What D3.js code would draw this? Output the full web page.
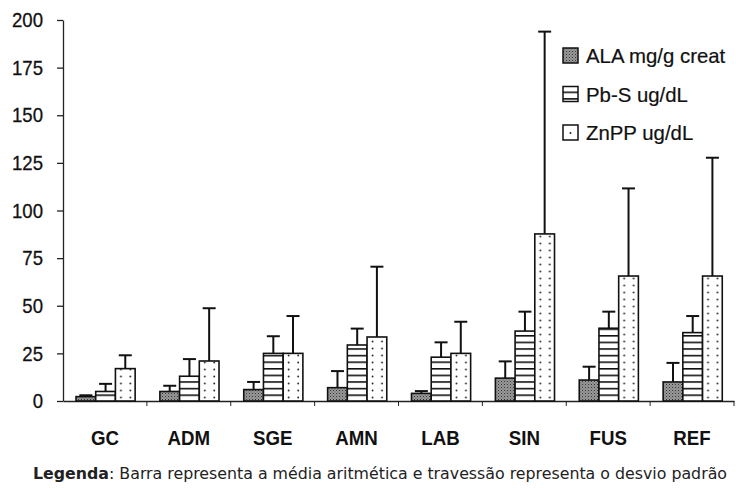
<!DOCTYPE html>
<html>
<head>
<meta charset="utf-8">
<script src="https://cdn.jsdelivr.net/npm/d3@7"></script>
<style>
  body { margin: 0; background: #fff; }
  svg { display: block; }
</style>
</head>
<body>
<div id="chart"></div>
<script>
// data (mean and standard deviation per group)
var categories = ["GC", "ADM", "SGE", "AMN", "LAB", "SIN", "FUS", "REF"];
var seriesNames = ["ALA mg/g creat", "Pb-S ug/dL", "ZnPP ug/dL"];
var alaMean = [2.3, 5, 6, 7, 4, 12, 11, 10];
var alaSd = [0.7, 3, 4, 8.7, 1.2, 8.8, 7, 10];
var pbsMean = [5, 13, 25, 29.4, 23, 36.7, 38.2, 35.9];
var pbsSd = [4, 9, 9, 8.6, 7.8, 10.2, 8.7, 8.7];
var znppMean = [17, 21, 25, 33.6, 25, 87.7, 65.6, 65.6];
var znppSd = [7, 27.7, 19.6, 36.9, 16.6, 106.2, 46, 62.1];
var yTicks = [0, 25, 50, 75, 100, 125, 150, 175, 200];

var width = 736, height = 488;
var margin = {top: 20, right: 2, bottom: 87, left: 63};
var fontArial = "Liberation Sans, Arial, sans-serif";

var svg = d3.select("#chart")
  .append("svg")
    .attr("width", width)
    .attr("height", height);

var means = [alaMean, pbsMean, znppMean];
var sds = [alaSd, pbsSd, znppSd];
var keys = ["ala", "pbs", "znpp"];

var rows = [];
categories.forEach(function(c, i) {
  keys.forEach(function(k, j) {
    rows.push({cat: c, key: k, mean: means[j][i], sd: sds[j][i]});
  });
});

var x = d3.scaleBand()
  .domain(categories)
  .range([margin.left, width - margin.right]);

var xInner = d3.scaleBand()
  .domain(keys)
  .range([x.bandwidth() * 0.155, x.bandwidth() * 0.86]);

var y = d3.scaleLinear()
  .domain([0, 200])
  .range([height - margin.bottom, margin.top]);

// the scanned figure uses a narrow sans, squeeze the glyphs a bit
function squeeze(sel, k) {
  sel.each(function() {
    var w = this.getComputedTextLength();
    d3.select(this)
      .attr("textLength", w * k)
      .attr("lengthAdjust", "spacingAndGlyphs");
  });
}

var defs = svg.append("defs");

// stippled grey for ALA
var pAla = defs.append("pattern")
  .attr("id", "ala")
  .attr("patternUnits", "userSpaceOnUse")
  .attr("width", 3).attr("height", 3);
pAla.append("rect").attr("width", 3).attr("height", 3).attr("fill", "#9a9a9a");
pAla.append("rect").attr("width", 1).attr("height", 1).attr("fill", "#333");
pAla.append("rect").attr("x", 1.5).attr("y", 1.5).attr("width", 1).attr("height", 1).attr("fill", "#555");

// horizontal lines for Pb-S
var pPbs = defs.append("pattern")
  .attr("id", "pbs")
  .attr("patternUnits", "userSpaceOnUse")
  .attr("y", y(0))
  .attr("width", 8).attr("height", 6.6);
pPbs.append("rect").attr("width", 8).attr("height", 6.6).attr("fill", "#fff");
pPbs.append("line")
  .attr("x1", 0).attr("x2", 8)
  .attr("y1", 0.8).attr("y2", 0.8)
  .attr("stroke", "#111").attr("stroke-width", 1.6);

// sparse dots for ZnPP, one pattern per bar so dots sit in two columns
var bw = xInner.bandwidth();
categories.forEach(function(c, i) {
  var p = defs.append("pattern")
    .attr("id", "znpp" + i)
    .attr("patternUnits", "userSpaceOnUse")
    .attr("x", x(c) + xInner("znpp"))
    .attr("y", y(0))
    .attr("width", bw).attr("height", 7);
  p.append("rect").attr("width", bw).attr("height", 7).attr("fill", "#fff");
  p.append("circle").attr("cx", bw * 0.28).attr("cy", 3.5).attr("r", 0.9).attr("fill", "#222");
  p.append("circle").attr("cx", bw * 0.76).attr("cy", 3.5).attr("r", 0.9).attr("fill", "#222");
});

function fillFor(d) {
  if (d.key == "znpp") return "url(#znpp" + categories.indexOf(d.cat) + ")";
  return "url(#" + d.key + ")";
}

// Y axis
var yAxisG = svg.append("g")
  .attr("transform", "translate(" + margin.left + ",0)")
  .call(d3.axisLeft(y).tickValues(yTicks).tickSize(6).tickSizeOuter(0).tickPadding(14));
yAxisG.selectAll("text")
  .attr("font-family", fontArial)
  .attr("font-size", 21)
  .attr("fill", "#111")
  .attr("stroke", "#111")
  .attr("stroke-width", 0.3)
  .call(squeeze, 0.885);
yAxisG.selectAll("line, path").attr("stroke", "#222").attr("stroke-width", 1.3);

// X axis with labels centred on each group
var xAxisG = svg.append("g")
  .attr("transform", "translate(0," + y(0) + ")")
  .call(d3.axisBottom(x).tickSize(0).tickSizeOuter(0).tickPadding(29));
xAxisG.select("path").attr("stroke", "#222").attr("stroke-width", 1.3);
xAxisG.selectAll("text")
  .attr("font-family", fontArial)
  .attr("font-size", 21)
  .attr("font-weight", "bold")
  .attr("fill", "#111")
  .call(squeeze, 0.89);

// small ticks between the groups
xAxisG.selectAll(".sep")
  .data(categories)
  .join("line")
    .attr("class", "sep")
    .attr("x1", d => x(d) + x.bandwidth())
    .attr("x2", d => x(d) + x.bandwidth())
    .attr("y1", 0).attr("y2", 5)
    .attr("stroke", "#222").attr("stroke-width", 1);

// error bars (upper whisker only)
var err = svg.append("g")
  .attr("stroke", "#111")
  .attr("stroke-width", 2)
  .selectAll("g")
  .data(rows)
  .join("g");
err.append("line")
  .attr("x1", d => x(d.cat) + xInner(d.key) + bw / 2)
  .attr("x2", d => x(d.cat) + xInner(d.key) + bw / 2)
  .attr("y1", d => y(d.mean))
  .attr("y2", d => y(d.mean + d.sd));
err.append("line")
  .attr("x1", d => x(d.cat) + xInner(d.key) + bw / 2 - 6.5)
  .attr("x2", d => x(d.cat) + xInner(d.key) + bw / 2 + 6.5)
  .attr("y1", d => y(d.mean + d.sd))
  .attr("y2", d => y(d.mean + d.sd));

// bars
svg.append("g")
  .selectAll("rect")
  .data(rows)
  .join("rect")
    .attr("x", d => x(d.cat) + xInner(d.key))
    .attr("y", d => y(d.mean))
    .attr("width", bw)
    .attr("height", d => y(0) - y(d.mean))
    .attr("fill", fillFor)
    .attr("stroke", "#111")
    .attr("stroke-width", 1.6);

// legend
var legend = svg.append("g")
  .selectAll("g")
  .data(keys)
  .join("g")
    .attr("transform", (d, i) => "translate(563," + (48 + i * 38.5) + ")");
legend.append("rect")
  .attr("width", 15).attr("height", 15)
  .attr("fill", d => d == "znpp" ? "#fff" : "url(#" + d + ")")
  .attr("stroke", "#111").attr("stroke-width", 1.5);
legend.filter(d => d == "znpp").append("circle")
  .attr("cx", 7.5).attr("cy", 8).attr("r", 1).attr("fill", "#222");
legend.append("text")
  .attr("x", 23)
  .attr("y", 15)
  .attr("font-family", fontArial)
  .attr("font-size", 21)
  .attr("fill", "#111")
  .attr("stroke", "#111")
  .attr("stroke-width", 0.2)
  .text((d, i) => seriesNames[i])
  .call(squeeze, 0.97);

// caption under the chart
var cap = svg.append("text")
  .attr("x", 33)
  .attr("y", 479)
  .attr("font-family", "DejaVu Sans, sans-serif")
  .attr("font-size", 16)
  .attr("fill", "#222")
  .attr("textLength", 694)
  .attr("lengthAdjust", "spacingAndGlyphs");
cap.append("tspan").attr("font-weight", "bold").text("Legenda");
cap.append("tspan").text(": Barra representa a média aritmética e travessão representa o desvio padrão");
</script>
</body>
</html>
